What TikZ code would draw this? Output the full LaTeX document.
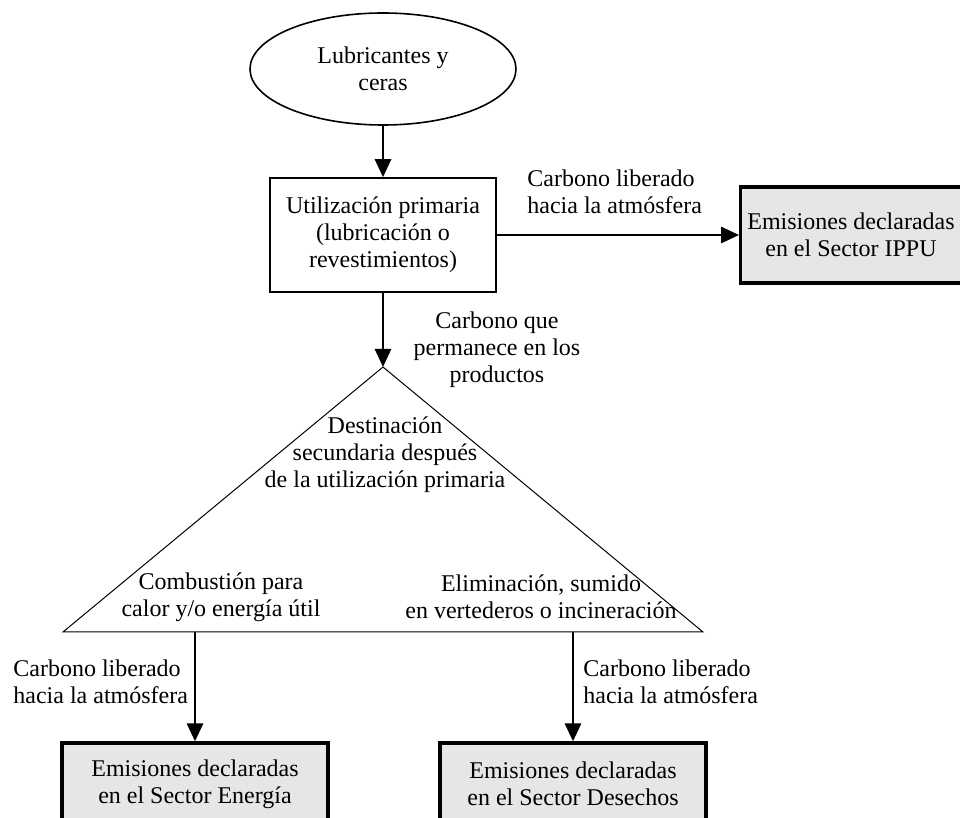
\documentclass[tikz,border=0pt]{standalone}
\usepackage{fontspec}
\setmainfont{Liberation Serif}
\usetikzlibrary{shapes.geometric,arrows.meta}
\definecolor{boxgray}{HTML}{E6E6E6}
\begin{document}
\begin{tikzpicture}[x=0.5pt,y=-0.5pt,font=\fontsize{12pt}{13.5pt}\selectfont]

        % estilos
        \tikzstyle{source} = [ellipse, draw=black, line width=0.8pt, minimum width=133pt, minimum height=56pt, align=center]
        \tikzstyle{process} = [rectangle, draw=black, line width=0.8pt, minimum width=113pt, minimum height=57pt, align=center]
        \tikzstyle{report} = [rectangle, draw=black, line width=1.6pt, fill=boxgray, minimum width=133pt, minimum height=41pt, align=center]
        \tikzstyle{note} = [align=left, inner sep=0pt, anchor=west]
        \tikzstyle{arrow} = [line width=1.4pt, -{Triangle[length=9pt,width=8pt]}]

        \useasboundingbox (0,0) rectangle (960,818);
        \clip (0,0) rectangle (960,818);

        % nodos
        \node (lub) [source] at (383,69) {Lubricantes y\\ceras};
        \node (use) [process] at (383,235) {Utilización primaria\\(lubricación o\\revestimientos)};
        \node (ippu) [report, minimum width=109pt, minimum height=48pt] at (851,235) {Emisiones declaradas\\en el Sector IPPU};
        \node (energia) [report] at (195,784) {Emisiones declaradas\\en el Sector Energía};
        \node (desechos) [report] at (573,784) {Emisiones declaradas\\en el Sector Desechos};

        % triangulo
        \coordinate (top) at (383,367);
        \coordinate (left) at (63,632);
        \coordinate (right) at (703,632);
        \coordinate (outE) at (195,632);
        \coordinate (outD) at (573,632);
        \draw [line width=0.5pt] (top) -- (left) -- (right) -- cycle;
        \node (dest) [align=center] at (385,455) {Destinación\\secundaria después\\de la utilización primaria};
        \node (comb) [align=center] at (221,597) {Combustión para\\calor y/o energía útil};
        \node (elim) [align=center] at (541,597) {Eliminación, sumido\\en vertederos o incineración};

        % etiquetas
        \node (relIPPU) [note] at (527,192) {Carbono liberado\\hacia la atmósfera};
        \node (remain) [align=center] at (497,350) {Carbono que\\permanece en los\\productos};
        \node (relE) [note] at (13,682) {Carbono liberado\\hacia la atmósfera};
        \node (relD) [note] at (583,682) {Carbono liberado\\hacia la atmósfera};

        % flechas
        \draw [arrow] (lub) -- (use);
        \draw [arrow] (use) -- (ippu);
        \draw [arrow] (use) -- (top);
        \draw [arrow] (outE) -- (energia);
        \draw [arrow] (outD) -- (desechos);

\end{tikzpicture}
\end{document}
